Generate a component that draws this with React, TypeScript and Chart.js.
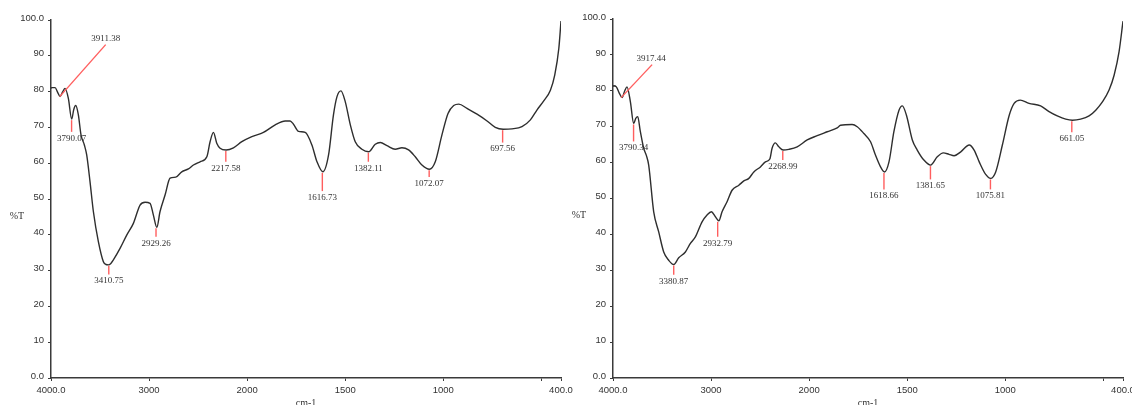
import React, { useEffect, useRef } from "react";
import { Chart, registerables } from "chart.js";

Chart.register(...registerables);

// ---------- data ----------
const WN_A = [4000, 3993, 3959, 3932, 3908, 3880, 3857, 3823, 3789, 3768, 3748, 3721, 3694, 3660, 3636, 3602, 3568, 3517, 3466, 3440, 3415, 3390, 3364, 3296, 3228, 3160, 3092, 3041, 2990, 2956, 2921, 2888, 2837, 2786, 2728, 2667, 2599, 2548, 2480, 2411, 2378, 2344, 2310, 2276, 2214, 2140, 2054, 1976, 1917, 1857, 1806, 1781, 1764, 1738, 1704, 1670, 1644, 1614, 1585, 1560, 1542, 1522, 1500, 1474, 1449, 1415, 1381, 1347, 1321, 1287, 1245, 1211, 1177, 1143, 1109, 1071, 1041, 1007, 976, 947, 921, 879, 828, 777, 735, 695, 650, 599, 556, 522, 488, 454, 432, 411, 400];
const T_A = [80.9, 81.1, 81.1, 79.8, 78.6, 80.0, 80.9, 78.1, 72.3, 75.0, 76.1, 73.5, 67.9, 65.1, 62.3, 54.8, 46.5, 38.1, 32.5, 31.7, 31.6, 32.0, 33.0, 36.2, 39.9, 43.2, 48.3, 49.1, 48.8, 45.5, 42.1, 46.5, 51.1, 55.8, 56.1, 57.6, 58.4, 59.5, 60.4, 61.8, 66.0, 68.6, 65.6, 64.2, 63.7, 64.3, 66.0, 67.4, 68.6, 70.7, 71.8, 71.8, 70.9, 68.9, 68.6, 65.1, 60.4, 57.6, 62.3, 73.5, 78.6, 80.2, 77.2, 70.7, 66.0, 63.9, 63.2, 65.3, 65.8, 64.9, 63.9, 64.3, 63.7, 61.8, 59.5, 58.3, 60.4, 67.9, 73.9, 76.1, 76.5, 75.3, 73.7, 71.8, 70.0, 69.5, 69.6, 70.2, 72.1, 74.9, 77.4, 80.4, 84.6, 92.1, 99.7];

const WN_B = [4000, 3993, 3966, 3935, 3908, 3880, 3857, 3823, 3789, 3768, 3748, 3721, 3687, 3660, 3636, 3585, 3534, 3483, 3432, 3381, 3330, 3262, 3211, 3160, 3092, 3041, 2997, 2956, 2921, 2888, 2837, 2786, 2717, 2666, 2615, 2564, 2497, 2446, 2401, 2378, 2344, 2309, 2265, 2207, 2122, 2020, 1959, 1908, 1857, 1840, 1781, 1755, 1721, 1687, 1662, 1636, 1616, 1593, 1568, 1542, 1525, 1504, 1474, 1449, 1415, 1381, 1347, 1316, 1287, 1261, 1227, 1184, 1159, 1133, 1100, 1075, 1049, 1015, 980, 955, 924, 879, 820, 777, 735, 692, 658, 616, 573, 539, 505, 471, 445, 420, 400];
const T_B = [81.2, 81.4, 81.1, 79.3, 78.1, 80.0, 81.1, 77.0, 70.9, 72.3, 72.8, 68.6, 64.0, 62.0, 59.3, 46.3, 40.7, 35.1, 32.8, 31.6, 33.5, 35.1, 37.5, 39.3, 43.5, 45.4, 46.3, 44.9, 43.8, 46.3, 49.1, 52.3, 53.7, 54.9, 55.6, 57.4, 58.8, 60.2, 61.0, 64.0, 65.5, 64.4, 63.5, 63.7, 64.4, 66.3, 67.5, 68.6, 69.7, 70.4, 70.6, 70.0, 68.1, 65.8, 62.1, 58.8, 57.4, 60.2, 68.6, 74.6, 75.8, 73.2, 66.3, 63.5, 60.7, 59.3, 61.6, 62.7, 62.3, 61.9, 63.0, 64.9, 63.5, 60.2, 56.7, 55.6, 57.4, 64.9, 73.2, 76.5, 77.4, 76.5, 75.8, 74.2, 73.0, 72.1, 71.8, 72.1, 73.0, 74.6, 76.9, 80.2, 84.4, 90.9, 99.4];

const PEAK_WN_A = [3911.38, 3790.07, 3410.75, 2929.26, 2217.58, 1616.73, 1382.11, 1072.07, 697.56];
const PEAK_T_A = [78.6, 72.3, 31.6, 42.1, 63.7, 57.6, 63.2, 58.3, 69.5];
const PEAK_WN_B = [3917.44, 3790.34, 3380.87, 2932.79, 2268.99, 1618.66, 1381.65, 1075.81, 661.05];
const PEAK_T_B = [78.1, 70.9, 31.6, 43.8, 63.5, 57.4, 59.3, 55.6, 71.8];

const X_TICK_WN = [4000, 3000, 2000, 1500, 1000, 500, 400];
const X_TICK_LABELS = ["4000.0", "3000", "2000", "1500", "1000", "", "400.0"];
const Y_TICKS = [0, 10, 20, 30, 40, 50, 60, 70, 80, 90, 100];
const Y_TICK_LABELS = ["0.0", "10", "20", "30", "40", "50", "60", "70", "80", "90", "100.0"];
const Y_TITLE = "%T";
const X_TITLE = "cm-1";

// ---------- annotation styles (pixel lengths) ----------
const MARK_LEN_A = [0, 11.7, 8.6, 8.4, 10.7, 18.3, 9, 6.7, 12.4];
const MARK_LEN_B = [0, 17, 9.3, 15, 9, 16.6, 13.3, 10, 11];

// piecewise wavenumber axis (scale change at 2000)
const toU = (wn: number) => (wn >= 2000 ? (4000 - wn) / 1000 : 2 + (2000 - wn) / 500);

const TICK_FONT = { family: "'Liberation Sans', Arial, sans-serif", size: 9.5 };
const AXIS_COLOR = "#3a3a3a";
const RED = "#ff5e5e";

type Cfg = {
  wn: number[];
  t: number[];
  pwn: number[];
  pt: number[];
  mlen: number[];
  padTop: number;
  padRight: number;
  yWidth: number;
  callout: { lx: number; ly: number; tx: number; ty: number };
};

function makeChart(canvas: HTMLCanvasElement, c: Cfg) {
  const annot = {
    id: "peaks",
    afterDatasetsDraw(chart: any) {
      const ctx = chart.ctx;
      const xs = chart.scales.x;
      const ys = chart.scales.y;
      const area = chart.chartArea;
      ctx.save();
      ctx.strokeStyle = RED;
      ctx.lineWidth = 1.4;
      ctx.fillStyle = "#333";
      ctx.font = "9px 'Liberation Serif', 'Times New Roman', serif";
      ctx.textAlign = "center";
      ctx.textBaseline = "middle";
      c.pwn.forEach((w, i) => {
        const x = xs.getPixelForValue(toU(w));
        const y = ys.getPixelForValue(c.pt[i]);
        const txt = w.toFixed(2);
        if (i === 0) {
          ctx.beginPath();
          ctx.moveTo(x, y);
          ctx.lineTo(x + c.callout.lx, y + c.callout.ly);
          ctx.stroke();
          ctx.fillText(txt, x + c.callout.tx, y + c.callout.ty);
        } else {
          const L = c.mlen[i];
          ctx.beginPath();
          ctx.moveTo(x, y + 1);
          ctx.lineTo(x, y + 1 + L);
          ctx.stroke();
          ctx.fillText(txt, x, y + L + 7.5);
        }
      });
      ctx.font = "10px 'Liberation Serif', 'Times New Roman', serif";
      ctx.fillStyle = "#333";
      ctx.textAlign = "center";
      ctx.fillText(Y_TITLE, area.left - 34, (area.top + area.bottom) / 2 + 17);
      ctx.fillText(X_TITLE, (area.left + area.right) / 2, 403);
      ctx.restore();
    },
  };

  const data = c.wn.map((w, i) => ({ x: toU(w), y: c.t[i] }));

  const gridCfg = {
    drawOnChartArea: false,
    drawTicks: true,
    tickLength: 3,
    color: AXIS_COLOR,
    lineWidth: 1,
  };

  return new Chart(canvas, {
    type: "line",
    data: {
      datasets: [
        {
          data,
          borderColor: "#2e2e2e",
          borderWidth: 1.4,
          pointRadius: 0,
          fill: false,
          cubicInterpolationMode: "monotone",
        },
      ],
    },
    options: {
      animation: false,
      responsive: false,
      layout: { padding: { left: 0, right: c.padRight, top: c.padTop, bottom: 0 } },
      plugins: { legend: { display: false }, tooltip: { enabled: false } },
      scales: {
        x: {
          type: "linear",
          min: 0,
          max: 5.2,
          afterBuildTicks: (s: any) => {
            s.ticks = X_TICK_WN.map((w) => ({ value: toU(w) }));
          },
          afterFit: (s: any) => {
            s.height = 405 - 378;
          },
          ticks: {
            autoSkip: false,
            maxRotation: 0,
            padding: 4,
            color: "#333",
            font: TICK_FONT,
            callback: (_v: any, i: number) => X_TICK_LABELS[i],
          },
          grid: gridCfg,
          border: { color: AXIS_COLOR, width: 1.5 },
        },
        y: {
          type: "linear",
          min: 0,
          max: 100,
          afterBuildTicks: (s: any) => {
            s.ticks = Y_TICKS.map((v) => ({ value: v }));
          },
          afterFit: (s: any) => {
            s.width = c.yWidth;
          },
          ticks: {
            padding: 4,
            color: "#333",
            font: TICK_FONT,
            labelOffset: -2,
            callback: (_v: any, i: number) => Y_TICK_LABELS[i],
          },
          grid: gridCfg,
          border: { color: AXIS_COLOR, width: 1.5 },
        },
      },
    },
    plugins: [annot],
  } as any);
}

export default function App() {
  const refA = useRef<HTMLCanvasElement>(null);
  const refB = useRef<HTMLCanvasElement>(null);

  useEffect(() => {
    const a = makeChart(refA.current!, {
      wn: WN_A,
      t: T_A,
      pwn: PEAK_WN_A,
      pt: PEAK_T_A,
      mlen: MARK_LEN_A,
      padTop: 20,
      padRight: 19,
      yWidth: 51,
      callout: { lx: 46, ly: -52, tx: 46, ty: -57.5 },
    });
    const b = makeChart(refB.current!, {
      wn: WN_B,
      t: T_B,
      pwn: PEAK_WN_B,
      pt: PEAK_T_B,
      mlen: MARK_LEN_B,
      padTop: 19,
      padRight: 33,
      yWidth: 47,
      callout: { lx: 31, ly: -33, tx: 30, ty: -38.5 },
    });
    return () => {
      a.destroy();
      b.destroy();
    };
  }, []);

  return (
    <div
      style={{
        position: "fixed",
        left: 0,
        top: 0,
        width: 1132,
        height: 405,
        overflow: "hidden",
        background: "#fff",
      }}
    >
      <canvas
        ref={refA}
        width={580}
        height={405}
        style={{ position: "absolute", left: 0, top: 0, width: 580, height: 405 }}
      />
      <canvas
        ref={refB}
        width={590}
        height={405}
        style={{ position: "absolute", left: 566, top: 0, width: 590, height: 405 }}
      />
    </div>
  );
}
